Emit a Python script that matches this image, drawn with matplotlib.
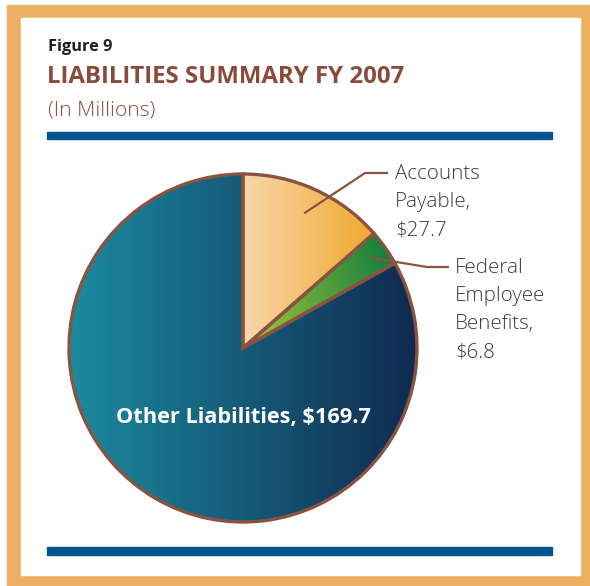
import numpy as np
import matplotlib.pyplot as plt
from matplotlib.colors import LinearSegmentedColormap
from matplotlib.patches import Rectangle

W, H = 590, 586

labels = ["Accounts\nPayable,\n$27.7", "Federal\nEmployee\nBenefits,\n$6.8", "Other Liabilities, $169.7"]
values = [27.7, 6.8, 169.7]
# gradient stops per slice (start colour, end colour)
grads = [("#f9d7ab", "#efa92e"), ("#a8c83c", "#0b7a3c"), ("#1b8a9f", "#102a50")]

BROWN = "#8a5340"
FRAME = "#ebb062"
BAR = "#03548f"
TITLE = "#8b4b3c"
FONT = ["Open Sans", "DejaVu Sans"]

plt.rcParams["font.family"] = FONT

fig = plt.figure(figsize=(W / 100, H / 100), dpi=100)
ax = fig.add_axes([0, 0, 1, 1])


def py(y):
    return H - y


# frame and rules
ax.add_patch(Rectangle((7, py(586)), 583, 581, color=FRAME, zorder=0))
ax.add_patch(Rectangle((21, py(575)), 559, 557, color="white", zorder=1))
ax.add_patch(Rectangle((47, py(139)), 505, 7, color=BAR, zorder=2))
ax.add_patch(Rectangle((47, py(555)), 505, 8, color=BAR, zorder=2))

# titles
ax.text(48, py(51), "Figure 9", fontsize=11.8, fontweight="bold", color="#231f20", zorder=3)
ax.text(47, py(83), "LIABILITIES SUMMARY FY 2007", fontsize=17.3, fontweight="bold",
        color=TITLE, zorder=3)
ax.text(48, py(115), "(In Millions)", fontsize=15.2, fontweight="light", color=TITLE, zorder=3)

# pie
cx, cy, r = 243, py(348), 174
wedges, _ = ax.pie(values, startangle=90, counterclock=False, center=(cx, cy), radius=r,
                   wedgeprops=dict(facecolor="none", edgecolor=BROWN, linewidth=2.4, zorder=6),
                   frame=True)

ramp = np.linspace(0, 1, 256).reshape(1, -1)
for w, (c0, c1) in zip(wedges, grads):
    x0, y0, x1, y1 = w.get_path().get_extents(w.get_patch_transform()).extents
    cmap = LinearSegmentedColormap.from_list("g", [c0, c1])
    if w is wedges[1]:
        # diagonal ramp, lighter toward the centre
        gx, gy = np.meshgrid(np.linspace(0, 1, 200), np.linspace(0, 1, 200))
        img = np.clip(gx * 0.8 + gy * 0.2, 0, 1)
        im = ax.imshow(img, cmap=cmap, extent=(x0, x1, y0, y1), origin="lower",
                       aspect="auto", zorder=4, interpolation="bilinear")
    else:
        im = ax.imshow(ramp, cmap=cmap, extent=(x0, x1, y0, y1), aspect="auto",
                       zorder=4, interpolation="bilinear")
    clip = plt.Polygon(w.get_path().transformed(w.get_patch_transform()).vertices,
                       closed=True, transform=ax.transData, facecolor="none", edgecolor="none")
    ax.add_patch(clip)
    im.set_clip_path(clip)

# leader lines and labels: (radius fraction of tip, bend point, line end, text top)
callouts = [(0.85, (365, 173), (388, 173), (395, 164)),
            (0.9, (427, 267), (449, 267), (455, 258))]
for w, lab, (frac, bend, end, txt) in zip(wedges[:2], labels[:2], callouts):
    mid = np.deg2rad((w.theta1 + w.theta2) / 2)
    tip = (cx + frac * r * np.cos(mid), cy + frac * r * np.sin(mid))
    ax.plot([tip[0], bend[0], end[0]], [tip[1], py(bend[1]), py(end[1])],
            color=BROWN, lw=1.6, zorder=7, solid_capstyle="butt")
    ax.text(txt[0], py(txt[1]), lab, fontsize=14.8, fontweight="light", color="#3d3d3d",
            va="top", ha="left", linespacing=1.55, zorder=7)

ax.text(243, py(418), labels[2], fontsize=15.7, fontweight="bold", color="white",
        ha="center", va="center", zorder=7)

ax.set_xlim(0, W)
ax.set_ylim(0, H)
ax.set_aspect("auto")
ax.axis("off")

fig.savefig("out.png", dpi=100)
